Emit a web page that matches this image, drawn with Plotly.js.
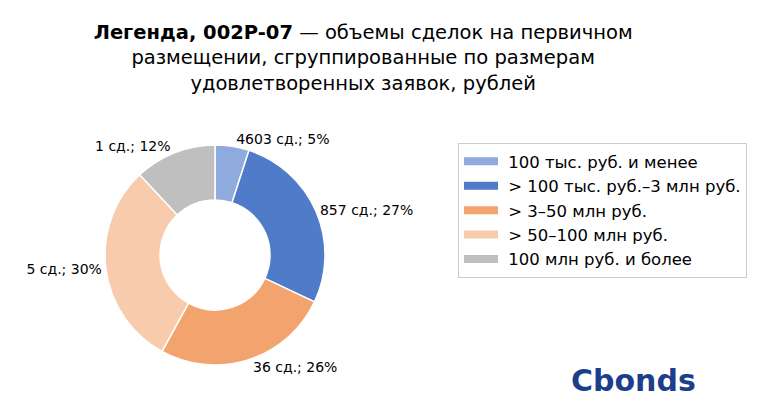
<!DOCTYPE html>
<html>
<head>
<meta charset="utf-8">
<script src="https://cdn.plot.ly/plotly-3.0.1.min.js"></script>
<style>html,body{margin:0;padding:0;background:#fff}#chart{width:771px;height:412px}</style>
</head>
<body>
<div id="chart"></div>
<script>
const categories = ["100 тыс. руб. и менее", "> 100 тыс. руб.–3 млн руб.", "> 3–50 млн руб.", "> 50–100 млн руб.", "100 млн руб. и более"];
const deals = [4603, 857, 36, 5, 1];
const shares = [5, 27, 26, 30, 12];
const colors = ["#8FAADC", "#4F7BC8", "#F3A46E", "#F7CBAC", "#BFBFBF"];

const labelsText = deals.map((d, i) => d + " сд.; " + shares[i] + "%");

const pieTrace = {
  type: "pie",
  labels: categories,
  values: shares,
  text: labelsText,
  textinfo: "text",
  textposition: "outside",
  hole: 0.5,
  sort: false,
  direction: "clockwise",
  rotation: 0,
  marker: {colors: colors, line: {color: "#ffffff", width: 1.5}},
  textfont: {family: "DejaVu Sans", size: 14, color: "#000"},
  outsidetextfont: {family: "DejaVu Sans", size: 14, color: "#000"},
  domain: {x: [105/771, 325/771], y: [47/412, 267/412]},
  automargin: false,
  showlegend: false
};

// legend-only entries (wide colour swatches like the reference)
const legendTraces = categories.map((c, i) => ({
  type: "scatter",
  x: [null], y: [null],
  mode: "lines",
  fill: "toself",
  fillcolor: colors[i],
  line: {width: 4, color: colors[i]},
  name: "\u00a0" + c,
  showlegend: true,
  hoverinfo: "skip"
}));

const layout = {
  width: 771, height: 412,
  margin: {l: 0, r: 0, t: 0, b: 0},
  paper_bgcolor: "#fff",
  plot_bgcolor: "rgba(0,0,0,0)",
  font: {family: "DejaVu Sans", color: "#000"},
  xaxis: {visible: false, domain: [0.99, 1]},
  yaxis: {visible: false, domain: [0.99, 1]},
  title: {
    text: "<b>Легенда, 002P-07</b> — объемы сделок на первичном<br>размещении, сгруппированные по размерам<br>удовлетворенных заявок, рублей",
    x: 0.471, xanchor: "center", y: 0.905, yanchor: "top",
    font: {family: "DejaVu Sans", size: 19.5, color: "#000"}
  },
  legend: {
    x: 458/771, y: 1 - 143/412, xanchor: "left", yanchor: "top",
    bordercolor: "#cccccc", borderwidth: 1, bgcolor: "#fff",
    font: {family: "DejaVu Sans", size: 16.5, color: "#000"},
    traceorder: "normal", itemwidth: 34
  },
  annotations: [{
    text: "<b>Cbonds</b>", x: 633/771, y: 1 - 380/412, xref: "paper", yref: "paper",
    xanchor: "center", yanchor: "middle", showarrow: false,
    font: {family: "DejaVu Sans", size: 30, color: "#1D3E8A"}
  }]
};

Plotly.newPlot("chart", [pieTrace].concat(legendTraces), layout, {displayModeBar: false, staticPlot: true});
</script>
</body>
</html>
